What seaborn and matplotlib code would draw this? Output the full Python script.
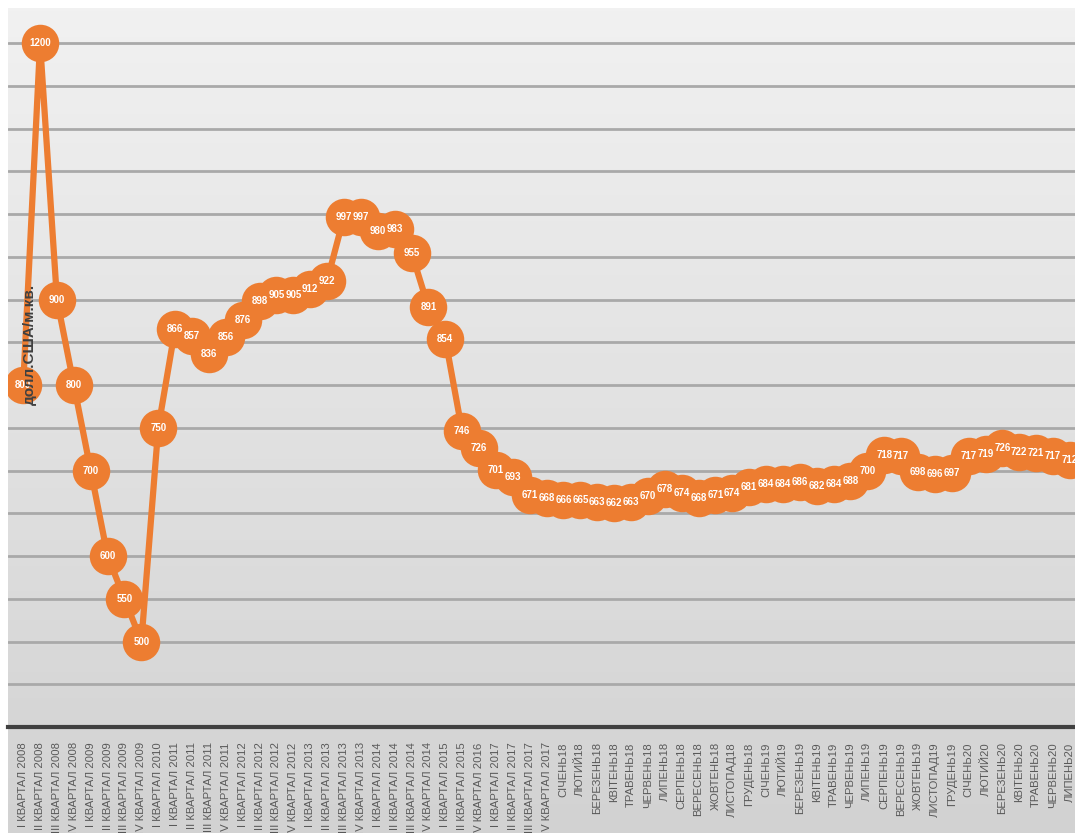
import matplotlib
matplotlib.use('Agg')
import matplotlib.pyplot as plt
import numpy as np
import pandas as pd
import seaborn as sns

sns.set_theme(style='white')
plt.rcParams['font.family'] = ['Liberation Sans', 'DejaVu Sans']

periods = [
    'I КВАРТАЛ 2008', 'II КВАРТАЛ 2008', 'III КВАРТАЛ 2008', 'IV КВАРТАЛ 2008',
    'I КВАРТАЛ 2009', 'II КВАРТАЛ 2009', 'III КВАРТАЛ 2009', 'IV КВАРТАЛ 2009',
    'I КВАРТАЛ 2010', 'I КВАРТАЛ 2011', 'II КВАРТАЛ 2011', 'III КВАРТАЛ 2011',
    'IV КВАРТАЛ 2011', 'I КВАРТАЛ 2012', 'II КВАРТАЛ 2012', 'III КВАРТАЛ 2012',
    'IV КВАРТАЛ 2012', 'I КВАРТАЛ 2013', 'II КВАРТАЛ 2013', 'III КВАРТАЛ 2013',
    'IV КВАРТАЛ 2013', 'I КВАРТАЛ 2014', 'II КВАРТАЛ 2014', 'III КВАРТАЛ 2014',
    'IV КВАРТАЛ 2014', 'I КВАРТАЛ 2015', 'II КВАРТАЛ 2015', 'IV КВАРТАЛ 2016',
    'I КВАРТАЛ 2017', 'II КВАРТАЛ 2017', 'III КВАРТАЛ 2017', 'IV КВАРТАЛ 2017',
    'СІЧЕНЬ18', 'ЛЮТИЙ18', 'БЕРЕЗЕНЬ18', 'КВІТЕНЬ18', 'ТРАВЕНЬ18', 'ЧЕРВЕНЬ18',
    'ЛИПЕНЬ18', 'СЕРПЕНЬ18', 'ВЕРЕСЕНЬ18', 'ЖОВТЕНЬ18', 'ЛИСТОПАД18', 'ГРУДЕНЬ18',
    'СІЧЕНЬ19', 'ЛЮТИЙ19', 'БЕРЕЗЕНЬ19', 'КВІТЕНЬ19', 'ТРАВЕНЬ19', 'ЧЕРВЕНЬ19',
    'ЛИПЕНЬ19', 'СЕРПЕНЬ19', 'ВЕРЕСЕНЬ19', 'ЖОВТЕНЬ19', 'ЛИСТОПАД19', 'ГРУДЕНЬ19',
    'СІЧЕНЬ20', 'ЛЮТИЙ20', 'БЕРЕЗЕНЬ20', 'КВІТЕНЬ20', 'ТРАВЕНЬ20', 'ЧЕРВЕНЬ20',
    'ЛИПЕНЬ20',
]
prices = [
    800, 1200, 900, 800, 700, 600, 550, 500, 750, 866, 857, 836, 856, 876, 898,
    905, 905, 912, 922, 997, 997, 980, 983, 955, 891, 854, 746, 726, 701, 693,
    671, 668, 666, 665, 663, 662, 663, 670, 678, 674, 668, 671, 674, 681, 684,
    684, 686, 682, 684, 688, 700, 718, 717, 698, 696, 697, 717, 719, 726, 722,
    721, 717, 712,
]
y_label = 'долл.США/м.кв.'

df = pd.DataFrame({'pos': np.arange(len(periods)), 'price': prices})

W, H = 1075, 833
fig = plt.figure(figsize=(W / 100, H / 100), dpi=100)
fig.patch.set_facecolor('white')

# grey gradient background behind everything
bg = fig.add_axes([8 / W, 0, 1 - 8 / W, 1 - 8 / H], zorder=-1)
grad = np.linspace(0, 1, 256).reshape(-1, 1)
bg.imshow(grad, aspect='auto', cmap=matplotlib.colors.LinearSegmentedColormap.from_list(
    'g', ['#f1f1f1', '#d2d2d2']), extent=[0, 1, 0, 1], origin='upper')
bg.axis('off')

ax = fig.add_axes([8 / W, 1 - 727 / H, 1 - 8 / W, (727 - 8) / H])
ax.set_facecolor('none')

orange = '#ED7D31'
sns.lineplot(data=df, x='pos', y='price', ax=ax, color=orange, linewidth=4.5,
             marker='o', markersize=27, markeredgewidth=0, zorder=3)

for i, v in enumerate(prices):
    ax.text(i, v, str(v), color='white', fontsize=7, fontweight='bold',
            ha='center', va='center', zorder=5, clip_on=True)

ax.set_ylim(400, 1241)
ax.set_xlim(-0.9, len(periods) - 0.7)
ax.set_yticks(np.arange(450, 1201, 50))
ax.yaxis.grid(True, color='#a9a9a9', linewidth=2)
ax.set_axisbelow(True)
ax.tick_params(axis='y', left=False, labelleft=False)

ax.set_xticks(df['pos'])
ax.set_xticklabels(periods, rotation=90, fontsize=8.1, color='#595959')
ax.tick_params(axis='x', bottom=False, pad=5)

for s in ['top', 'right', 'left']:
    ax.spines[s].set_visible(False)
ax.spines['bottom'].set_color('#404040')
ax.spines['bottom'].set_linewidth(3)

ax.set_xlabel('')
ax.set_ylabel('')
ax.text(22 / (W - 8), 1 - (344 - 8) / (727 - 8), y_label, transform=ax.transAxes,
        rotation=90, ha='center', va='center', fontsize=11, fontweight='bold',
        color='#404040', zorder=6)

fig.savefig('out.png', dpi=100)
